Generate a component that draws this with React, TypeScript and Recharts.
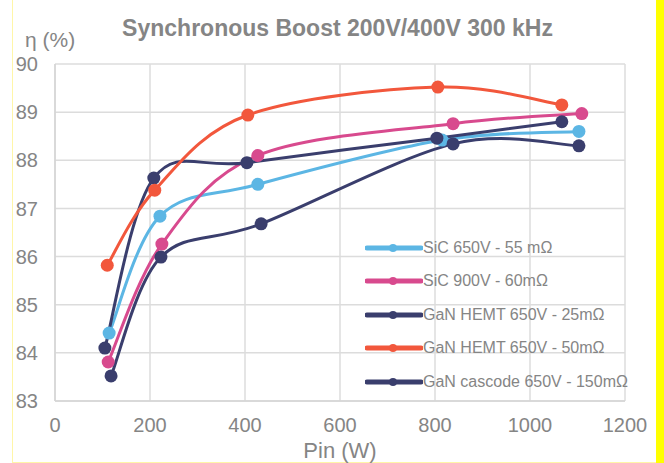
import { LineChart, Line, XAxis, YAxis, CartesianGrid } from 'recharts';

// input power (W) / efficiency (%) per device
const sic650Pin = [114, 221, 427, 815, 1103];
const sic650Eff = [84.41, 86.84, 87.5, 88.42, 88.6];

const sic900Pin = [112, 225, 427, 838, 1109];
const sic900Eff = [83.81, 86.26, 88.1, 88.76, 88.97];

const ganHemt25Pin = [105, 208, 404, 804, 1067];
const ganHemt25Eff = [84.1, 87.63, 87.95, 88.46, 88.8];

const ganHemt50Pin = [110, 210, 406, 806, 1067];
const ganHemt50Eff = [85.82, 87.38, 88.94, 89.52, 89.15];

const ganCascodePin = [118, 223, 434, 838, 1103];
const ganCascodeEff = [83.52, 85.99, 86.68, 88.34, 88.3];

const xTicks = [0, 200, 400, 600, 800, 1000, 1200];
const yTicks = [83, 84, 85, 86, 87, 88, 89, 90];

const toRows = (pin: number[], eff: number[]) => pin.map((p, i) => ({ pin: p, eff: eff[i] }));

const series = [
  { name: 'SiC 650V - 55 mΩ', color: '#5cb6e4', data: toRows(sic650Pin, sic650Eff) },
  { name: 'SiC 900V - 60mΩ', color: '#d84a8e', data: toRows(sic900Pin, sic900Eff) },
  { name: 'GaN HEMT 650V - 25mΩ', color: '#3a3e6d', data: toRows(ganHemt25Pin, ganHemt25Eff) },
  { name: 'GaN HEMT 650V - 50mΩ', color: '#f2573c', data: toRows(ganHemt50Pin, ganHemt50Eff) },
  { name: 'GaN cascode 650V - 150mΩ', color: '#3a3e6d', data: toRows(ganCascodePin, ganCascodeEff) },
];

const grey = '#858585';
const font = '"Liberation Sans", Arial, sans-serif';

// Excel-style smoothed line (catmull-rom through the points)
function smoothCurve(context: any) {
  let pts: [number, number][] = [];
  return {
    areaStart() {},
    areaEnd() {},
    lineStart() {
      pts = [];
    },
    lineEnd() {
      if (!pts.length) return;
      context.moveTo(pts[0][0], pts[0][1]);
      for (let i = 0; i < pts.length - 1; i++) {
        const p0 = pts[Math.max(i - 1, 0)];
        const p1 = pts[i];
        const p2 = pts[i + 1];
        const p3 = pts[Math.min(i + 2, pts.length - 1)];
        context.bezierCurveTo(
          p1[0] + (p2[0] - p0[0]) / 6,
          p1[1] + (p2[1] - p0[1]) / 6,
          p2[0] - (p3[0] - p1[0]) / 6,
          p2[1] - (p3[1] - p1[1]) / 6,
          p2[0],
          p2[1]
        );
      }
    },
    point(x: number, y: number) {
      pts.push([x, y]);
    },
  };
}

function LegendBox() {
  return (
    <div style={{ fontFamily: font, fontSize: 16, color: grey }}>
      {series.map((s) => (
        <div key={s.name} style={{ display: 'flex', alignItems: 'center', height: 33.5, whiteSpace: 'nowrap' }}>
          <svg width={58} height={12}>
            <line x1={2} y1={6} x2={56} y2={6} stroke={s.color} strokeWidth={5} strokeLinecap="round" />
            <circle cx={28} cy={6} r={4} fill={s.color} />
          </svg>
          <span>{s.name}</span>
        </div>
      ))}
    </div>
  );
}

export default function App() {
  return (
    <div style={{ position: 'absolute', left: 0, top: 0, width: 664, height: 463, background: '#fff', fontFamily: font }}>
      <div style={{ position: 'absolute', left: 12, top: 0, width: 643, height: 462, borderLeft: '1px solid #fff6a8', borderBottom: '1px solid #fff6a8' }} />
      <div style={{ position: 'absolute', left: 656, top: 0, width: 8, height: 463, background: '#ffff00' }} />
      <div style={{ position: 'absolute', left: 0, width: 675, top: 15, textAlign: 'center', fontSize: 23, fontWeight: 'bold', color: grey, whiteSpace: 'nowrap' }}>
        Synchronous Boost 200V/400V 300 kHz
      </div>
      <div style={{ position: 'absolute', left: 25, top: 28, fontSize: 21, color: grey }}>η (%)</div>
      <div style={{ position: 'absolute', left: 0, top: 0 }}>
        <LineChart width={664} height={463} margin={{ top: 64, right: 39, bottom: 0, left: 0 }}>
          <CartesianGrid stroke="#dcdcdc" strokeWidth={1.5} />
          <XAxis
            type="number"
            dataKey="pin"
            domain={[0, 1200]}
            ticks={xTicks}
            interval={0}
            height={62}
            allowDuplicatedCategory={false}
            stroke="#d4d4d4"
            strokeWidth={1.5}
            tickLine={false}
            tickSize={0}
            tickMargin={17}
            tick={{ fill: grey, fontSize: 20, fontFamily: font }}
            label={{ value: 'Pin (W)', position: 'insideBottom', offset: 5, fill: grey, fontSize: 22, fontFamily: font }}
          />
          <YAxis
            type="number"
            domain={[83, 90]}
            ticks={yTicks}
            interval={0}
            width={55}
            stroke="#d4d4d4"
            strokeWidth={1.5}
            tickLine={false}
            tickSize={0}
            tickMargin={17}
            tick={{ fill: grey, fontSize: 20, fontFamily: font }}
          />
          {series.map((s) => (
            <Line
              key={s.name}
              data={s.data}
              dataKey="eff"
              name={s.name}
              type={smoothCurve as any}
              stroke={s.color}
              strokeWidth={3}
              dot={{ r: 6.5, fill: s.color, stroke: s.color, strokeWidth: 0 }}
              activeDot={false}
              isAnimationActive={false}
            />
          ))}
        </LineChart>
      </div>
      <div style={{ position: 'absolute', left: 365, top: 231 }}>
        <LegendBox />
      </div>
    </div>
  );
}
